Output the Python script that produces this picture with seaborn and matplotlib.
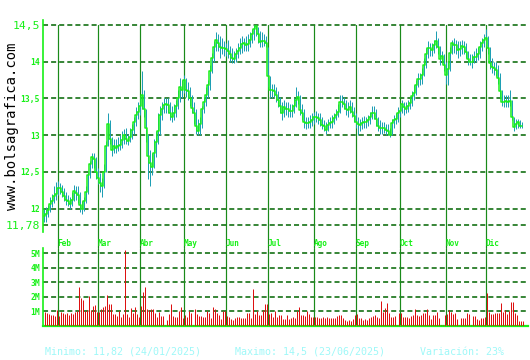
import numpy as np
import pandas as pd
import matplotlib
matplotlib.use("Agg")
import matplotlib.pyplot as plt
import seaborn as sns
from matplotlib.transforms import blended_transform_factory

# ---------------- data ----------------
close = [
    11.90, 11.92, 11.98, 12.06, 12.10, 12.17, 12.20, 12.28, 12.28, 12.22,
    12.17, 12.12, 12.10, 12.06, 12.12, 12.24, 12.21, 12.19, 12.05, 11.99,
    12.10, 12.22, 12.45, 12.60, 12.70, 12.68, 12.50, 12.42, 12.35, 12.30,
    12.50, 12.85, 13.15, 12.95, 12.80, 12.85, 12.82, 12.85, 12.87, 12.93,
    13.00, 12.95, 12.92, 12.98, 13.07, 13.18, 13.28, 13.32, 13.40, 13.55,
    13.35, 13.10, 12.72, 12.62, 12.57, 12.75, 12.90, 13.05, 13.28, 13.35,
    13.41, 13.42, 13.41, 13.30, 13.25, 13.30, 13.39, 13.50, 13.66, 13.62,
    13.75, 13.62, 13.60, 13.50, 13.37, 13.30, 13.12, 13.05, 13.15, 13.35,
    13.45, 13.55, 13.68, 13.88, 14.05, 14.20, 14.30, 14.25, 14.20, 14.19,
    14.18, 14.17, 14.14, 14.10, 14.05, 14.04, 14.10, 14.15, 14.19, 14.24,
    14.25, 14.23, 14.24, 14.30, 14.38, 14.44, 14.48, 14.38, 14.27, 14.28,
    14.28, 14.26, 13.80, 13.62, 13.62, 13.60, 13.54, 13.48, 13.40, 13.30,
    13.38, 13.36, 13.35, 13.33, 13.33, 13.40, 13.48, 13.52, 13.34, 13.30,
    13.18, 13.16, 13.16, 13.18, 13.20, 13.25, 13.25, 13.23, 13.20, 13.14,
    13.12, 13.07, 13.14, 13.16, 13.18, 13.23, 13.27, 13.32, 13.45, 13.45,
    13.43, 13.36, 13.34, 13.38, 13.32, 13.26, 13.18, 13.15, 13.14, 13.17,
    13.18, 13.18, 13.20, 13.25, 13.30, 13.30, 13.22, 13.12, 13.10, 13.10,
    13.10, 13.07, 13.06, 13.00, 13.16, 13.20, 13.22, 13.30, 13.33, 13.42,
    13.38, 13.36, 13.40, 13.44, 13.53, 13.58, 13.68, 13.77, 13.77, 13.82,
    13.95, 14.10, 14.18, 14.18, 14.16, 14.23, 14.28, 14.20, 14.04, 14.08,
    13.96, 13.82, 13.90, 14.12, 14.25, 14.23, 14.23, 14.16, 14.17, 14.21,
    14.20, 14.13, 14.03, 14.00, 14.00, 14.07, 14.07, 14.10, 14.20, 14.25,
    14.30, 14.32, 14.18, 13.98, 13.93, 13.91, 13.89, 13.78, 13.60, 13.45,
    13.45, 13.47, 13.45, 13.47, 13.25, 13.11, 13.15, 13.18, 13.13, 13.13,
]
high = [
    12.00, 12.02, 12.05, 12.15, 12.20, 12.30, 12.36, 12.38, 12.35, 12.32,
    12.28, 12.22, 12.18, 12.15, 12.22, 12.32, 12.30, 12.30, 12.22, 12.10,
    12.15, 12.30, 12.50, 12.65, 12.76, 12.75, 12.70, 12.55, 12.48, 12.42,
    12.60, 12.92, 13.30, 13.20, 12.98, 12.95, 12.95, 12.98, 13.00, 13.05,
    13.08, 13.10, 13.02, 13.10, 13.15, 13.25, 13.38, 13.45, 13.52, 13.88,
    13.62, 13.35, 13.02, 12.80, 12.75, 12.95, 13.05, 13.30, 13.40, 13.45,
    13.50, 13.50, 13.50, 13.45, 13.40, 13.42, 13.48, 13.62, 13.78, 13.75,
    13.82, 13.78, 13.72, 13.65, 13.55, 13.45, 13.35, 13.22, 13.25, 13.40,
    13.52, 13.65, 13.75, 13.95, 14.12, 14.28, 14.40, 14.38, 14.35, 14.32,
    14.28, 14.25, 14.30, 14.22, 14.18, 14.15, 14.18, 14.25, 14.32, 14.35,
    14.32, 14.35, 14.38, 14.40, 14.45, 14.50, 14.50, 14.47, 14.42, 14.40,
    14.38, 14.35, 14.20, 13.80, 13.70, 13.70, 13.65, 13.60, 13.52, 13.45,
    13.48, 13.45, 13.45, 13.42, 13.42, 13.50, 13.65, 13.60, 13.55, 13.42,
    13.35, 13.25, 13.25, 13.28, 13.30, 13.32, 13.33, 13.30, 13.30, 13.25,
    13.20, 13.18, 13.22, 13.25, 13.28, 13.30, 13.35, 13.42, 13.55, 13.55,
    13.52, 13.48, 13.45, 13.48, 13.45, 13.38, 13.30, 13.25, 13.22, 13.25,
    13.26, 13.25, 13.28, 13.32, 13.40, 13.40, 13.35, 13.25, 13.20, 13.18,
    13.18, 13.15, 13.15, 13.10, 13.22, 13.28, 13.30, 13.38, 13.42, 13.48,
    13.45, 13.45, 13.48, 13.52, 13.60, 13.68, 13.75, 13.85, 13.85, 13.92,
    14.05, 14.18, 14.28, 14.25, 14.25, 14.30, 14.42, 14.32, 14.22, 14.15,
    14.10, 14.00, 14.00, 14.20, 14.30, 14.32, 14.30, 14.28, 14.28, 14.30,
    14.28, 14.25, 14.15, 14.10, 14.10, 14.15, 14.18, 14.20, 14.28, 14.32,
    14.38, 14.45, 14.35, 14.20, 14.05, 14.00, 14.00, 13.95, 13.85, 13.62,
    13.55, 13.55, 13.55, 13.62, 13.48, 13.25, 13.22, 13.22, 13.20, 13.18,
]
low = [
    11.82, 11.82, 11.88, 11.95, 12.02, 12.08, 12.12, 12.18, 12.20, 12.15,
    12.10, 12.05, 12.03, 12.00, 12.04, 12.10, 12.12, 12.08, 11.95, 11.93,
    11.97, 12.08, 12.20, 12.42, 12.55, 12.55, 12.40, 12.33, 12.22, 12.15,
    12.28, 12.50, 12.85, 12.88, 12.72, 12.75, 12.75, 12.78, 12.80, 12.82,
    12.88, 12.88, 12.86, 12.90, 12.95, 13.02, 13.12, 13.22, 13.28, 13.35,
    13.25, 12.90, 12.40, 12.30, 12.45, 12.55, 12.70, 12.88, 13.00, 13.20,
    13.30, 13.30, 13.30, 13.20, 13.18, 13.20, 13.25, 13.35, 13.45, 13.50,
    13.58, 13.52, 13.48, 13.40, 13.30, 13.15, 13.02, 13.00, 13.00, 13.10,
    13.30, 13.40, 13.50, 13.62, 13.85, 14.00, 14.15, 14.15, 14.05, 14.10,
    14.08, 14.08, 14.05, 14.00, 13.98, 13.98, 14.00, 14.05, 14.10, 14.12,
    14.15, 14.15, 14.15, 14.20, 14.25, 14.30, 14.35, 14.25, 14.20, 14.20,
    14.22, 14.20, 13.65, 13.50, 13.50, 13.52, 13.45, 13.38, 13.30, 13.20,
    13.25, 13.28, 13.25, 13.25, 13.25, 13.30, 13.38, 13.42, 13.28, 13.20,
    13.10, 13.08, 13.10, 13.10, 13.12, 13.15, 13.18, 13.15, 13.12, 13.08,
    13.05, 13.02, 13.05, 13.10, 13.10, 13.15, 13.20, 13.25, 13.30, 13.38,
    13.35, 13.28, 13.25, 13.30, 13.25, 13.18, 13.10, 13.00, 13.05, 13.08,
    13.10, 13.10, 13.12, 13.15, 13.22, 13.22, 13.12, 13.05, 13.02, 13.02,
    13.03, 13.00, 13.00, 12.98, 13.00, 13.10, 13.15, 13.18, 13.25, 13.30,
    13.28, 13.30, 13.32, 13.35, 13.40, 13.48, 13.55, 13.65, 13.68, 13.70,
    13.80, 13.92, 14.05, 14.08, 14.08, 14.12, 14.18, 14.10, 13.95, 13.98,
    13.88, 13.70, 13.68, 13.88, 14.10, 14.12, 14.10, 14.05, 14.08, 14.10,
    14.10, 14.05, 13.95, 13.95, 13.92, 13.98, 14.00, 14.02, 14.05, 14.15,
    14.20, 14.22, 14.10, 13.90, 13.85, 13.82, 13.80, 13.70, 13.50, 13.40,
    13.38, 13.38, 13.38, 13.40, 13.20, 13.05, 13.08, 13.10, 13.10, 13.10,
]
volume_m = [
    0.96, 0.89, 0.80, 0.73, 0.73, 0.68, 1.08, 0.66, 0.96, 0.89,
    0.80, 0.89, 0.73, 0.89, 0.80, 0.96, 1.03, 2.69, 1.93, 1.81,
    1.00, 1.12, 2.05, 1.08, 1.35, 1.42, 0.96, 0.96, 1.19, 1.31,
    1.35, 2.12, 1.49, 1.49, 0.84, 0.80, 0.66, 1.03, 0.61, 0.80,
    5.24, 0.80, 0.61, 1.21, 0.91, 1.28, 0.84, 0.61, 1.35, 2.32,
    2.69, 1.19, 1.10, 1.19, 1.19, 0.89, 0.64, 0.96, 0.66, 0.66,
    0.10, 0.40, 0.80, 1.54, 0.69, 0.62, 0.62, 1.03, 1.31, 0.57,
    0.76, 0.62, 1.03, 0.90, 0.05, 1.15, 0.85, 0.69, 0.69, 0.62,
    0.62, 1.03, 0.92, 0.53, 1.31, 1.15, 0.92, 0.76, 0.46, 1.03,
    1.03, 0.69, 0.62, 0.46, 0.41, 0.53, 0.62, 0.62, 0.53, 0.53,
    0.53, 0.92, 0.92, 0.53, 2.57, 0.85, 1.03, 0.76, 0.76, 1.08,
    1.54, 1.54, 0.85, 0.92, 0.62, 1.03, 0.62, 0.76, 0.76, 0.46,
    0.46, 0.76, 0.46, 0.53, 0.62, 0.53, 1.03, 1.31, 0.76, 0.76,
    0.69, 1.03, 0.80, 0.62, 0.62, 0.62, 0.62, 0.57, 0.53, 0.62,
    0.53, 0.62, 0.53, 0.53, 0.53, 0.57, 0.69, 0.76, 0.76, 0.53,
    0.41, 0.34, 0.41, 0.34, 0.51, 0.76, 0.85, 0.53, 0.53, 0.41,
    0.46, 0.41, 0.53, 0.62, 0.69, 0.76, 0.62, 0.57, 1.72, 0.99,
    1.26, 1.59, 0.92, 0.62, 0.62, 0.69, 0.05, 0.92, 0.92, 0.62,
    0.62, 0.62, 0.53, 0.69, 0.76, 1.15, 0.76, 0.69, 0.76, 0.92,
    0.92, 1.15, 0.76, 0.46, 0.76, 0.76, 0.99, 0.57, 0.05, 0.05,
    0.76, 0.85, 1.08, 0.99, 0.80, 0.92, 0.46, 0.05, 0.53, 0.53,
    0.53, 0.92, 0.85, 0.05, 0.69, 0.69, 0.46, 0.41, 0.53, 0.53,
    0.62, 2.30, 0.99, 0.85, 0.85, 0.92, 0.92, 0.92, 1.61, 0.99,
    1.08, 0.85, 1.03, 1.68, 1.68, 0.92, 0.76, 0.34, 0.34, 0.34,
]
holidays = ["2025-05-01", "2025-12-25"]
month_names = ["Feb", "Mar", "Abr", "May", "Jun", "Jul", "Ago", "Sep", "Oct", "Nov", "Dic"]
price_ticks = [11.78, 12, 12.5, 13, 13.5, 14, 14.5]
price_tick_labels = ["11,78", "12", "12,5", "13", "13,5", "14", "14,5"]
vol_ticks = [1, 2, 3, 4, 5]
vol_tick_labels = ["1M", "2M", "3M", "4M", "5M"]
footer_min = "Minimo: 11,82 (24/01/2025)"
footer_max = "Maximo: 14,5 (23/06/2025)"
footer_var = "Variación: 23%"
site_label = "www.bolsagrafica.com"

# ---------------- derived ----------------
N = len(close)
dates = pd.bdate_range("2025-01-23", "2025-12-31")
dates = dates[~dates.isin(pd.to_datetime(holidays))][:N]
idx = np.arange(N)
df = pd.DataFrame({"i": idx, "date": dates, "close": close, "high": high, "low": low, "vol": volume_m})
month_start = df.groupby(df["date"].dt.month)["i"].min()
month_pos = [month_start[m] for m in range(2, 13)]

# ---------------- style ----------------
sns.set_style("white")
plt.rcParams["font.family"] = ["DejaVu Sans Mono", "DejaVu Sans"]

GREEN = "#18f018"
GRID = "#006400"
VLINE = "#1a8a1a"
TEAL = "#1e9fb4"
RED = "#dd1111"
CYAN = "#9ff8f8"
PX = 0.72  # one pixel in points at 100 dpi

W, H = 530, 360
fig = plt.figure(figsize=(W / 100, H / 100), dpi=100)
fig.patch.set_facecolor("white")


def rect(l, t, r, b):
    return [l / W, 1 - b / H, (r - l) / W, (b - t) / H]


axp = fig.add_axes(rect(43, 20, 528, 232))
axv = fig.add_axes(rect(43, 248, 528, 326))

xlim = (-0.25, 242.25)
dash = (0, (3.3, 2.0))

# ---- price panel ----
axp.vlines(df["i"], df["low"], df["high"], color=TEAL, linewidth=PX,
           snap=True, zorder=3)
sns.lineplot(data=df, x="i", y="close", ax=axp, color=GREEN, linewidth=1.1,
             drawstyle="steps-mid", estimator=None, errorbar=None, zorder=4)
axp.set_xlim(*xlim)
axp.set_ylim(11.68, 14.568)
axp.set_axisbelow(True)
axp.yaxis.grid(True, color=GRID, linestyle=dash, linewidth=1.1)
axp.xaxis.grid(False)
axp.set_yticks(price_ticks)
axp.set_yticklabels(price_tick_labels)
axp.tick_params(axis="y", length=0, pad=2, colors=GREEN)
axp.set_xticks([])
axp.set_xlabel("")
axp.set_ylabel("")
for lab, v in zip(axp.get_yticklabels(), price_ticks):
    if v in (14.5, 11.78):
        lab.set_fontsize(8.2)
    else:
        lab.set_fontsize(5.8)
        lab.set_fontweight("bold")
for s in ["top", "right", "bottom"]:
    axp.spines[s].set_visible(False)
axp.spines["left"].set_color(GREEN)
axp.spines["left"].set_linewidth(1.2)

ybot = -(248 - 232) / 212
ytop = (232 - 25) / 212
trans = blended_transform_factory(axp.transData, fig.transFigure)
for pos, name in zip(month_pos, month_names):
    axp.axvline(pos, ymin=ybot, ymax=ytop, color=VLINE, linewidth=1.2 * PX,
                snap=True, clip_on=False, zorder=2)
    axv.axvline(pos, color=VLINE, linewidth=1.2 * PX, snap=True, zorder=2)
    axp.text(pos, 1 - 244 / H, name, transform=trans, ha="left", va="center",
             fontsize=5.6, fontweight="bold", color=GREEN, zorder=5)

# ---- volume panel ----
axv.vlines(df["i"] + 0.75, 0, df["vol"], color=RED, linewidth=PX,
           snap=True, zorder=3)
axv.set_xlim(*xlim)
axv.set_ylim(0, 5.37)
axv.set_axisbelow(True)
axv.yaxis.grid(True, color=GRID, linestyle=dash, linewidth=1.1)
axv.xaxis.grid(False)
axv.set_yticks(vol_ticks)
axv.set_yticklabels(vol_tick_labels)
axv.tick_params(axis="y", length=0, pad=2, colors=GREEN, labelsize=5.8)
for lab in axv.get_yticklabels():
    lab.set_fontweight("bold")
axv.set_xticks([])
for s in ["top", "right"]:
    axv.spines[s].set_visible(False)
axv.spines["left"].set_color(GREEN)
axv.spines["left"].set_linewidth(1.2)
axv.spines["bottom"].set_color(GREEN)
axv.spines["bottom"].set_linewidth(1.6)

# ---- texts ----
fig.text(12 / W, 1 - 126 / H, site_label, rotation=90, ha="center", va="center",
         fontsize=10, color="black")
fy = 1 - 352 / H
fig.text(45 / W, fy, footer_min, ha="left", va="center", fontsize=7.2, color=CYAN)
fig.text(235 / W, fy, footer_max, ha="left", va="center", fontsize=7.2, color=CYAN)
fig.text(420 / W, fy, footer_var, ha="left", va="center", fontsize=7.2, color=CYAN)

fig.savefig("out.png", dpi=100, facecolor="white")
